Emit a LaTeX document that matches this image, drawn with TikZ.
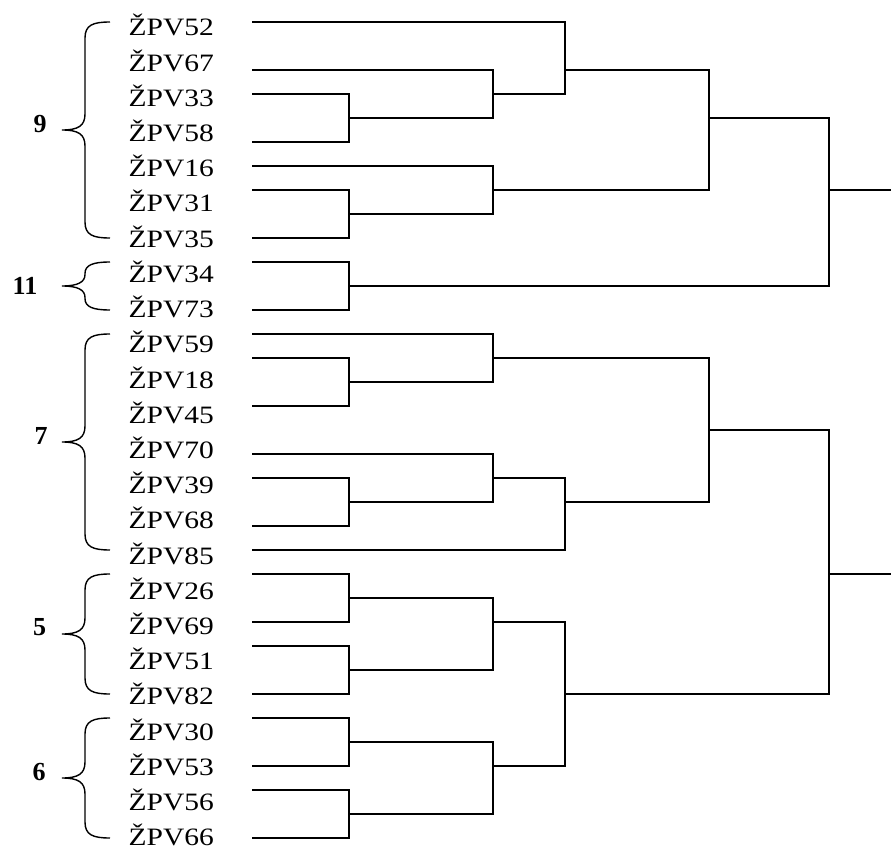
\documentclass[tikz,border=0pt]{standalone}
\usepackage{fontspec}
\usepackage{graphicx}
\setmainfont{Liberation Serif}
\newcommand\leaffont{\fontsize{25}{25}\selectfont}
\newcommand\groupfont{\fontsize{26}{26}\selectfont\bfseries}
\newcommand\widetext[1]{\scalebox{1.18}[1]{#1}}
% curly brace on the left of a cluster: name, top y, bottom y, label, label x, label y
\newcommand\clusterbrace[6]{%
  \pgfmathsetmacro\cbmid{(#2+#3)/2}%
  \pgfmathsetmacro\cbrad{min(16,(#3-#2)/4.2)}%
  \draw[bracepen] (110,#2) .. controls (93,#2) and (85,#2+3) .. (85,#2+\cbrad)
    -- (85,\cbmid-\cbrad) .. controls (85,\cbmid-4) and (78,\cbmid) .. (62,\cbmid)
    .. controls (78,\cbmid) and (85,\cbmid+4) .. (85,\cbmid+\cbrad)
    -- (85,#3-\cbrad) .. controls (85,#3-3) and (93,#3) .. (110,#3);
  \node[grouplabel] (#1) at (#5,#6) {#4};
}
\tikzset{
  leaf/.style={anchor=base west, inner sep=0pt, font=\leaffont},
  grouplabel/.style={anchor=center, inner sep=0pt, font=\groupfont},
  branch/.style={line width=1.3pt, black},
  bracepen/.style={line width=1.4pt, black},
}
\begin{document}
\begin{tikzpicture}[x=1pt, y=-1pt]
\useasboundingbox (0,0) rectangle (891,850);

% leaf labels
\foreach \nm [count=\k from 0] in {52,67,33,58,16,31,35,34,73,59,18,45,70,39,68,85,26,69,51,82,30,53,56,66}
  \node[leaf] (t\nm) at (128.5,{36+35.2*\k}) {\widetext{ŽPV\nm}};

% start points of the leaf branches
\foreach \nm/\gy in {52/0,67/2,33/3,58/5,16/6,31/7,35/9,34/10,73/12,59/13,18/14,45/16,
                     70/18,39/19,68/21,85/22,26/23,69/25,51/26,82/28,30/29,53/31,56/32,66/34}
  \coordinate (p\nm) at (252,{22+24*\gy});

% merge points
\coordinate (jA) at (349,118);
\coordinate (jB) at (493,94);
\coordinate (jC) at (565,70);
\coordinate (jD) at (349,214);
\coordinate (jE) at (493,190);
\coordinate (jF) at (709,118);
\coordinate (jG) at (349,286);
\coordinate (jH) at (829,190);
\coordinate (rootA) at (891,190);
\coordinate (jI) at (349,382);
\coordinate (jJ) at (493,358);
\coordinate (jK) at (349,502);
\coordinate (jL) at (493,478);
\coordinate (jM) at (565,502);
\coordinate (jN) at (709,430);
\coordinate (jO) at (349,598);
\coordinate (jP) at (349,670);
\coordinate (jQ) at (493,622);
\coordinate (jR) at (349,742);
\coordinate (jS) at (349,814);
\coordinate (jT) at (493,766);
\coordinate (jU) at (565,694);
\coordinate (jV) at (829,574);
\coordinate (rootB) at (891,574);

% upper tree
\draw[branch] (p33) -| (jA) |- (p58);
\draw[branch] (p67) -| (jB) |- (jA);
\draw[branch] (p52) -| (jC) |- (jB);
\draw[branch] (p31) -| (jD) |- (p35);
\draw[branch] (p16) -| (jE) |- (jD);
\draw[branch] (jC) -| (jF) |- (jE);
\draw[branch] (p34) -| (jG) |- (p73);
\draw[branch] (jF) -| (jH) |- (jG);
\draw[branch] (jH) -- (rootA);

% lower tree
\draw[branch] (p18) -| (jI) |- (p45);
\draw[branch] (p59) -| (jJ) |- (jI);
\draw[branch] (p39) -| (jK) |- (p68);
\draw[branch] (p70) -| (jL) |- (jK);
\draw[branch] (jL) -| (jM) |- (p85);
\draw[branch] (jJ) -| (jN) |- (jM);
\draw[branch] (p26) -| (jO) |- (p69);
\draw[branch] (p51) -| (jP) |- (p82);
\draw[branch] (jO) -| (jQ) |- (jP);
\draw[branch] (p30) -| (jR) |- (p53);
\draw[branch] (p56) -| (jS) |- (p66);
\draw[branch] (jR) -| (jT) |- (jS);
\draw[branch] (jQ) -| (jU) |- (jT);
\draw[branch] (jN) -| (jV) |- (jU);
\draw[branch] (jV) -- (rootB);

% cluster braces
\clusterbrace{g9}{22}{238}{9}{40}{124}
\clusterbrace{g11}{262}{310}{11}{25}{286}
\clusterbrace{g7}{334}{550}{7}{41}{436}
\clusterbrace{g5}{574}{694}{5}{39.5}{627.5}
\clusterbrace{g6}{718}{838}{6}{39}{772.5}
\end{tikzpicture}
\end{document}
